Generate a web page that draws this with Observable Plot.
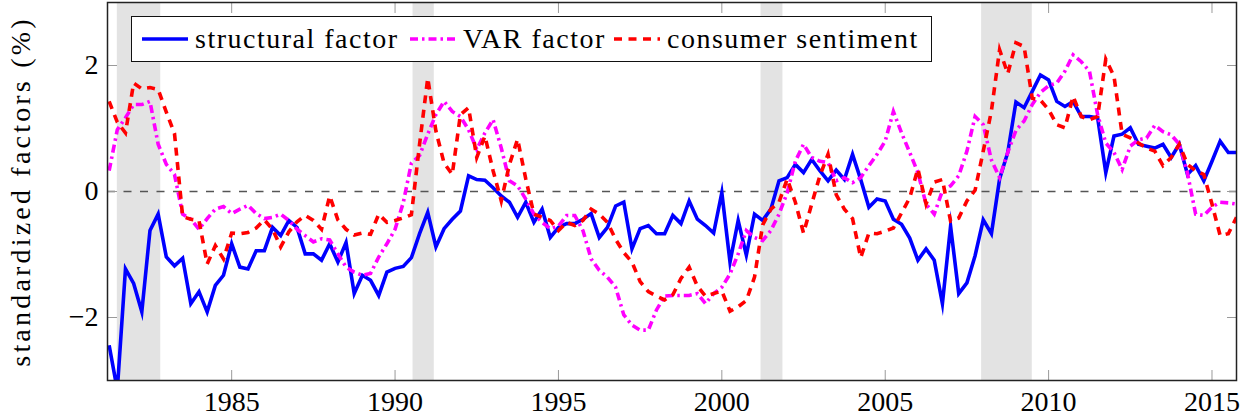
<!DOCTYPE html>
<html>
<head>
<meta charset="utf-8">
<script src="https://cdn.jsdelivr.net/npm/d3@7"></script>
<script src="https://cdn.jsdelivr.net/npm/@observablehq/plot@0.6"></script>
<style>
  body { margin: 0; background: #fff; }
  #wrap { position: relative; width: 1251px; height: 419px; font-family: "Liberation Serif", serif; }
  #wrap svg { display: block; }
  .legend { position: absolute; left: 131px; top: 16px; width: 799px; height: 44px; border: 1.5px solid #111; background: #fff; }
  .item { position: absolute; top: 0; height: 44px; display: flex; align-items: center; }
  .item span { font-family: "Liberation Serif", serif; font-size: 28px; letter-spacing: 1.5px; margin-left: 7px; color: #000; white-space: nowrap; }
</style>
</head>
<body>
<div id="wrap"></div>
<script>
// ---- data (quarterly, starting 1981 Q2) ----
const startYear = 1981.25;
const seriesNames = ["structural factor", "VAR factor", "consumer sentiment"];
const seriesColors = ["#0000ff", "#ff00ff", "#ff0000"];

const structural = [
  -2.44,-3.15,-1.23,-1.46,-1.91,-0.62,-0.36,-1.04,-1.18,-1.06,
  -1.78,-1.59,-1.91,-1.49,-1.33,-0.83,-1.2,-1.23,-0.94,-0.94,
  -0.57,-0.7,-0.46,-0.57,-0.99,-0.99,-1.09,-0.83,-1.12,-0.81,
  -1.62,-1.33,-1.41,-1.65,-1.28,-1.22,-1.19,-1.05,-0.67,-0.33,
  -0.88,-0.59,-0.44,-0.31,0.25,0.19,0.18,0.06,-0.07,-0.17,
  -0.41,-0.17,-0.49,-0.28,-0.73,-0.57,-0.51,-0.51,-0.44,-0.35,
  -0.73,-0.57,-0.23,-0.17,-0.91,-0.59,-0.54,-0.67,-0.67,-0.38,
  -0.51,-0.15,-0.44,-0.54,-0.66,-0.02,-1.12,-0.46,-1.01,-0.36,
  -0.46,-0.28,0.17,0.22,0.43,0.3,0.51,0.33,0.17,0.34,
  0.19,0.59,0.19,-0.25,-0.12,-0.15,-0.44,-0.52,-0.74,-1.09,
  -0.91,-1.09,-1.78,-0.55,-1.62,-1.45,-1.02,-0.45,-0.67,0.2,
  0.62,1.42,1.33,1.59,1.85,1.77,1.43,1.35,1.43,1.19,
  1.19,1.17,0.3,0.88,0.91,1.01,0.75,0.72,0.69,0.75,
  0.54,0.75,0.27,0.41,0.17,0.48,0.8,0.62,0.62
];
const varFactor = [
  0.33,0.98,1.17,1.38,1.38,1.43,0.75,0.43,0.27,-0.36,
  -0.44,-0.6,-0.43,-0.28,-0.24,-0.35,-0.28,-0.22,-0.35,-0.43,
  -0.41,-0.36,-0.46,-0.6,-0.7,-0.8,-0.75,-0.77,-0.99,-1.2,
  -1.28,-1.33,-1.3,-1.04,-0.83,-0.6,-0.18,0.45,0.57,0.91,
  1.22,1.43,1.27,1.19,0.98,0.67,0.93,1.14,0.69,0.17,
  0.09,-0.12,-0.36,-0.49,-0.59,-0.55,-0.38,-0.38,-0.62,-1.07,
  -1.25,-1.36,-1.52,-1.96,-2.12,-2.2,-2.2,-1.88,-1.66,-1.65,
  -1.65,-1.65,-1.62,-1.78,-1.62,-1.52,-1.31,-0.99,-0.62,-0.73,
  -0.78,-0.62,-0.36,-0.02,0.48,0.75,0.54,0.48,0.46,0.17,
  0.22,0.14,0.22,0.41,0.59,0.8,1.27,0.93,0.62,0.3,
  -0.2,-0.36,0.01,0.09,0.25,0.64,1.19,1.06,0.5,0.22,
  0.62,0.97,1.12,1.38,1.57,1.68,1.72,1.91,2.17,2.06,
  1.91,1.22,0.77,0.62,0.35,0.72,0.82,0.85,1.05,0.95,
  0.9,0.75,0.29,-0.36,-0.38,-0.25,-0.17,-0.18,-0.2
];
const sentiment = [
  1.43,1.1,0.93,1.72,1.63,1.65,1.62,1.26,0.92,-0.4,
  -0.44,-0.46,-1.15,-0.86,-1.07,-0.66,-0.67,-0.65,-0.58,-0.45,
  -0.6,-0.88,-0.64,-0.48,-0.38,-0.46,-0.6,-0.07,-0.45,-0.6,
  -0.69,-0.66,-0.68,-0.36,-0.49,-0.46,-0.42,-0.37,0.75,1.8,
  0.96,0.45,0.27,1.22,1.33,0.54,0.88,0.33,-0.15,0.43,
  0.83,0.2,-0.36,-0.41,-0.46,-0.62,-0.49,-0.54,-0.46,-0.28,
  -0.36,-0.49,-0.76,-0.97,-1.12,-1.43,-1.59,-1.66,-1.72,-1.64,
  -1.38,-1.2,-1.5,-1.66,-1.62,-1.58,-1.9,-1.83,-1.73,-1.36,
  -0.53,-0.28,-0.17,0.2,-0.17,-0.66,-0.2,0.25,0.59,-0.05,
  -0.28,-0.43,-1.05,-0.66,-0.67,-0.63,-0.58,-0.34,-0.1,0.36,
  -0.2,0.15,0.19,-0.47,-0.42,-0.15,0.02,0.64,1.28,2.25,
  1.87,2.36,2.3,1.48,1.45,1.3,1.06,1.01,1.51,1.19,
  1.14,1.19,2.1,1.83,0.91,0.85,0.77,0.69,0.64,0.41,
  0.54,0.75,0.43,0.33,0.27,-0.2,-0.7,-0.67,-0.41
];

const recessionStart = [1981.5, 1990.55, 2001.2, 2007.95];
const recessionEnd   = [1982.83, 1991.2, 2001.87, 2009.5];

const xTicks = [1985, 1990, 1995, 2000, 2005, 2010, 2015];
const yTicks = [-2, 0, 2];

// ---- build tables ----
const allSeries = [structural, varFactor, sentiment];
const dashes = [null, "8,4,2.5,4", "8,6.5"];
const tables = allSeries.map(vals => vals.map((v, i) => ({year: startYear + i * 0.25, value: v})));
const recessions = recessionStart.map((s, i) => ({start: s, end: recessionEnd[i]}));

const fmt = d => d < 0 ? "\u2212" + Math.abs(d) : String(d);
const tickStroke = "#9a9a9a";
const serif = "'Liberation Serif', serif";

const lineMarks = tables.map((t, k) => Plot.line(t, {
  x: "year", y: "value",
  stroke: seriesColors[k], strokeWidth: 3.6,
  strokeDasharray: dashes[k] || undefined,
  strokeLinejoin: "miter", strokeMiterlimit: 10, strokeLinecap: "butt",
  clip: true
}));

const chart = Plot.plot({
  width: 1251, height: 419,
  marginLeft: 107, marginRight: 15, marginTop: 2, marginBottom: 39,
  x: {domain: [1981.2, 2015.75]},
  y: {domain: [-3, 3]},
  style: {fontFamily: serif, fontSize: "28px", color: "#000", background: "#fff"},
  marks: [
    Plot.rect(recessions, {x1: "start", x2: "end", fill: "#e3e3e3"}),
    Plot.ruleY([0], {stroke: "#555", strokeWidth: 1.5, strokeDasharray: "8,8.5"}),
    ...lineMarks,
    Plot.axisX(xTicks, {anchor: "bottom", tickSize: 0, tickPadding: 11, tickFormat: d => String(d), fontSize: 28, label: null}),
    Plot.axisX(xTicks, {anchor: "bottom", tickSize: -10, tickFormat: () => "", stroke: tickStroke, label: null}),
    Plot.axisX(xTicks, {anchor: "top", tickSize: -10, tickFormat: () => "", stroke: tickStroke, label: null}),
    Plot.axisY(yTicks, {anchor: "left", tickSize: 0, tickPadding: 9, tickFormat: fmt, fontSize: 28,
      label: "standardized factors (%)", labelAnchor: "center", labelOffset: 97, labelArrow: "none"}),
    Plot.axisY(yTicks, {anchor: "left", tickSize: -10, tickFormat: () => "", stroke: tickStroke, label: null}),
    Plot.axisY(yTicks, {anchor: "right", tickSize: -10, tickFormat: () => "", stroke: tickStroke, label: null}),
    Plot.frame({stroke: "#222", strokeWidth: 1.5})
  ]
});

chart.querySelectorAll("text").forEach(t => { t.style.fontFamily = serif; });
chart.querySelectorAll('[aria-label="y-axis label"] text').forEach(t => { t.style.letterSpacing = "3.2px"; });

const wrap = document.getElementById("wrap");
wrap.appendChild(chart);

// ---- legend (inside plot, top-left) ----
const legend = document.createElement("div");
legend.className = "legend";
const itemLefts = [10, 278, 482];
seriesNames.forEach((name, k) => {
  const item = document.createElement("div");
  item.className = "item";
  item.style.left = itemLefts[k] + "px";
  const dash = dashes[k] ? ` stroke-dasharray="${dashes[k]}"` : "";
  item.innerHTML = `<svg width="46" height="12"><line x1="0" y1="6" x2="46" y2="6" stroke="${seriesColors[k]}" stroke-width="3.6"${dash}/></svg><span>${name}</span>`;
  legend.appendChild(item);
});
wrap.appendChild(legend);
</script>
</body>
</html>
